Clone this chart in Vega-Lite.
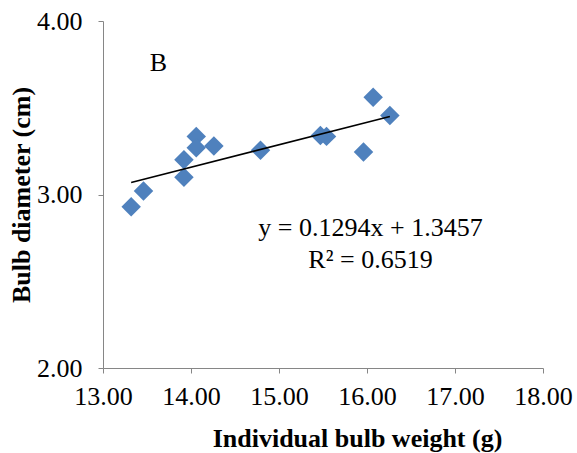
{
  "$schema": "https://vega.github.io/schema/vega-lite/v6.json",
  "width": 440,
  "height": 347,
  "autosize": "none",
  "padding": {"left": 103, "top": 21, "right": 34, "bottom": 85},
  "background": "white",
  "config": {
    "view": {"stroke": null},
    "font": "Liberation Serif",
    "axis": {
      "grid": false,
      "domainColor": "#868686",
      "tickColor": "#868686",
      "tickSize": 5,
      "labelFont": "Liberation Serif",
      "labelFontSize": 26,
      "labelColor": "#000000",
      "labelFlush": false,
      "labelOverlap": false,
      "titleFont": "Liberation Serif",
      "titleFontSize": 26,
      "titleFontWeight": "bold",
      "titleColor": "#000000"
    }
  },
  "datasets": {
    "points": [
      {"weight": 13.32, "diameter": 2.93},
      {"weight": 13.46, "diameter": 3.02},
      {"weight": 13.92, "diameter": 3.20},
      {"weight": 13.92, "diameter": 3.10},
      {"weight": 14.06, "diameter": 3.335},
      {"weight": 14.06, "diameter": 3.27},
      {"weight": 14.26, "diameter": 3.28},
      {"weight": 14.79, "diameter": 3.255},
      {"weight": 15.47, "diameter": 3.34},
      {"weight": 15.54, "diameter": 3.335},
      {"weight": 15.96, "diameter": 3.245},
      {"weight": 16.07, "diameter": 3.56},
      {"weight": 16.26, "diameter": 3.455}
    ],
    "trend": [
      {"weight": 13.32, "diameter": 3.069},
      {"weight": 16.26, "diameter": 3.450}
    ],
    "labels": [
      {"weight": 13.63, "diameter": 3.758, "text": "B"},
      {"weight": 16.04, "diameter": 2.807, "text": "y = 0.1294x + 1.3457"},
      {"weight": 16.04, "diameter": 2.622, "text": "R² = 0.6519"}
    ]
  },
  "layer": [
    {
      "data": {"name": "points"},
      "mark": {"type": "point", "shape": "diamond", "filled": true, "color": "#4F81BD", "opacity": 1, "size": 380},
      "encoding": {
        "x": {
          "field": "weight", "type": "quantitative",
          "scale": {"domain": [13, 18], "nice": false, "zero": false},
          "axis": {"values": [13, 14, 15, 16, 17, 18], "format": ".2f", "title": "Individual bulb weight (g)", "labelPadding": 10, "titlePadding": 16, "titleX": 254, "titleAlign": "center"}
        },
        "y": {
          "field": "diameter", "type": "quantitative",
          "scale": {"domain": [2, 4], "nice": false, "zero": false},
          "axis": {"values": [2, 3, 4], "format": ".2f", "title": "Bulb diameter (cm)", "labelPadding": 16, "titlePadding": 2}
        }
      }
    },
    {
      "data": {"name": "trend"},
      "mark": {"type": "line", "color": "#000000", "strokeWidth": 1.5},
      "encoding": {
        "x": {"field": "weight", "type": "quantitative"},
        "y": {"field": "diameter", "type": "quantitative"}
      }
    },
    {
      "data": {"name": "labels"},
      "mark": {"type": "text", "font": "Liberation Serif", "fontSize": 26, "color": "#000000", "align": "center", "baseline": "middle"},
      "encoding": {
        "x": {"field": "weight", "type": "quantitative"},
        "y": {"field": "diameter", "type": "quantitative"},
        "text": {"field": "text"}
      }
    }
  ]
}
